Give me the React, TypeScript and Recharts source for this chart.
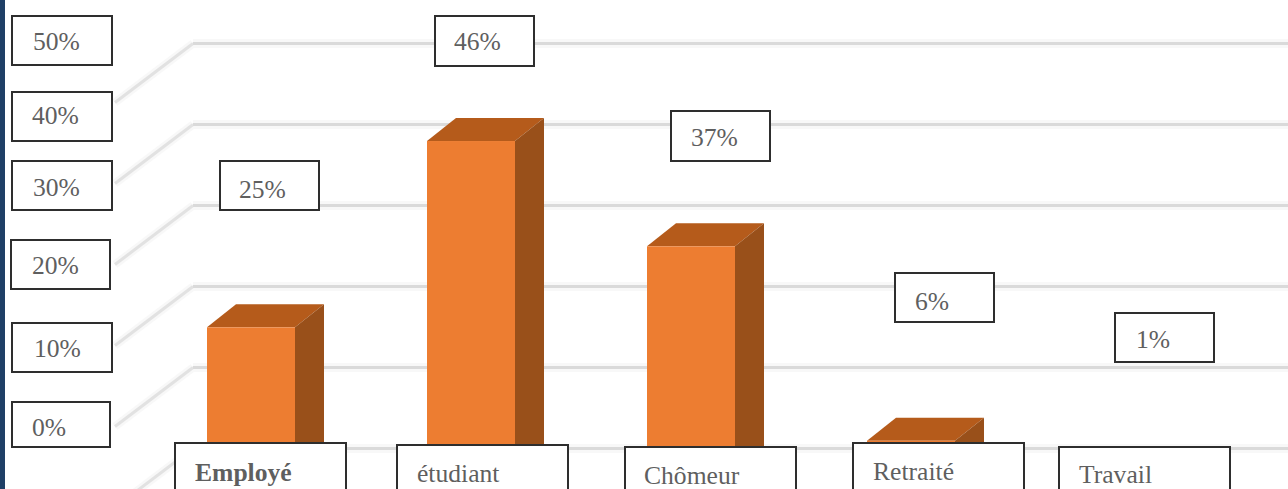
import React from "react";
import { BarChart, Bar, XAxis, YAxis, CartesianGrid } from "recharts";

const categories = ["Employé", "étudiant", "Chômeur", "Retraité", "Travail"];
const barHeights = [17.8, 40.8, 27.8, 3.8, 0];
const percentLabels = ["25%", "46%", "37%", "6%", "1%"];
const axisTicks = [0, 10, 20, 30, 40, 50];
const axisLabels = ["50%", "40%", "30%", "20%", "10%", "0%"];

const data = categories.map((name, i) => ({ name, value: barHeights[i] }));

const W = 1288;
const H = 489;
const DEPTH_X = 29;
const DEPTH_Y = 23;
const TEXT = "#5f5f5f";

const axisBoxes = [
  { l: 11, t: 15, w: 102, h: 51, tx: 22, ty: 12 },
  { l: 11, t: 91, w: 102, h: 51, tx: 21, ty: 10 },
  { l: 11, t: 160, w: 102, h: 51, tx: 22, ty: 13 },
  { l: 10, t: 239, w: 101, h: 51, tx: 22, ty: 12 },
  { l: 11, t: 322, w: 102, h: 51, tx: 23, ty: 12 },
  { l: 11, t: 401, w: 100, h: 47, tx: 21, ty: 12 },
];
const valueBoxes = [
  { l: 219, t: 160, w: 101, h: 51, tx: 20, ty: 15 },
  { l: 434, t: 15, w: 101, h: 52, tx: 20, ty: 12 },
  { l: 670, t: 110, w: 101, h: 52, tx: 21, ty: 13 },
  { l: 894, t: 272, w: 101, h: 51, tx: 21, ty: 15 },
  { l: 1114, t: 312, w: 101, h: 51, tx: 22, ty: 13 },
];
const categoryBoxes = [
  { l: 174, t: 442, tx: 21, ty: 16, bold: true },
  { l: 396, t: 444, tx: 21, ty: 15 },
  { l: 624, t: 446, tx: 20, ty: 15 },
  { l: 852, t: 442, tx: 21, ty: 15 },
  { l: 1058, t: 446, tx: 21, ty: 14 },
];

const Bar3D = (props: any) => {
  const { x, y, width, height } = props;
  const fy = y + DEPTH_Y;
  const by = y + height + DEPTH_Y;
  return (
    <g>
      <polygon
        points={`${x},${fy} ${x + DEPTH_X},${y} ${x + width + DEPTH_X},${y} ${x + width},${fy}`}
        fill="#b55b1b"
      />
      <polygon
        points={`${x + width},${fy} ${x + width + DEPTH_X},${y} ${x + width + DEPTH_X},${by - DEPTH_Y} ${x + width},${by}`}
        fill="#99501a"
      />
      <rect x={x} y={fy} width={width} height={height} fill="#ed7d31" />
    </g>
  );
};

const GridLine3D = (props: any) => {
  const { x1, y1 } = props;
  const corner = x1 + 52;
  const diag = `M${corner - 78},${y1 + 59} L${corner},${y1}`;
  const flat = `M${corner},${y1} L${W},${y1}`;
  return (
    <g fill="none" strokeLinejoin="round">
      <path d={diag} stroke="#f8f8f8" strokeWidth={8} />
      <path d={flat} stroke="#f8f8f8" strokeWidth={9} />
      <path d={diag} stroke="#e2e2e2" strokeWidth={3} />
      <path d={flat} stroke="#dadada" strokeWidth={3} />
    </g>
  );
};

const boxStyle = (l: number, t: number, w: number, h: number): React.CSSProperties => ({
  position: "absolute",
  left: l,
  top: t,
  width: w,
  height: h,
  boxSizing: "border-box",
  background: "#fff",
  border: "2px solid #2e2e2e",
  color: TEXT,
  fontFamily: '"Liberation Serif", serif',
  fontSize: 25.6,
  lineHeight: "30px",
  overflow: "hidden",
});

export default function App() {
  return (
    <div style={{ position: "absolute", left: 0, top: 0, width: W, height: H, overflow: "hidden", background: "#fff" }}>
      <BarChart
        width={W}
        height={H}
        data={data}
        barSize={88}
        margin={{ top: 43.5, right: 47, bottom: 40.5, left: 141 }}
      >
        <CartesianGrid vertical={false} horizontal={(p: any) => <GridLine3D key={p.key ?? p.y1} {...p} />} />
        <XAxis dataKey="name" hide />
        <YAxis hide domain={[0, 50]} ticks={axisTicks} />
        <Bar dataKey="value" isAnimationActive={false} shape={<Bar3D />} />
      </BarChart>

      <div style={{ position: "absolute", left: 0, top: 0, width: 5, height: H, background: "#1f3f66" }} />

      {axisLabels.map((label, i) => {
        const b = axisBoxes[i];
        return (
          <div key={label} style={boxStyle(b.l, b.t, b.w, b.h)}>
            <span style={{ position: "absolute", left: b.tx - 2, top: b.ty - 2 }}>{label}</span>
          </div>
        );
      })}
      {percentLabels.map((label, i) => {
        const b = valueBoxes[i];
        return (
          <div key={label} style={boxStyle(b.l, b.t, b.w, b.h)}>
            <span style={{ position: "absolute", left: b.tx - 2, top: b.ty - 2 }}>{label}</span>
          </div>
        );
      })}
      {categories.map((label, i) => {
        const b = categoryBoxes[i];
        return (
          <div key={label} style={boxStyle(b.l, b.t, 173, H - b.t + 10)}>
            <span style={{ position: "absolute", left: b.tx - 2, top: b.ty - 2, fontWeight: b.bold ? 700 : 400 }}>{label}</span>
          </div>
        );
      })}
    </div>
  );
}
